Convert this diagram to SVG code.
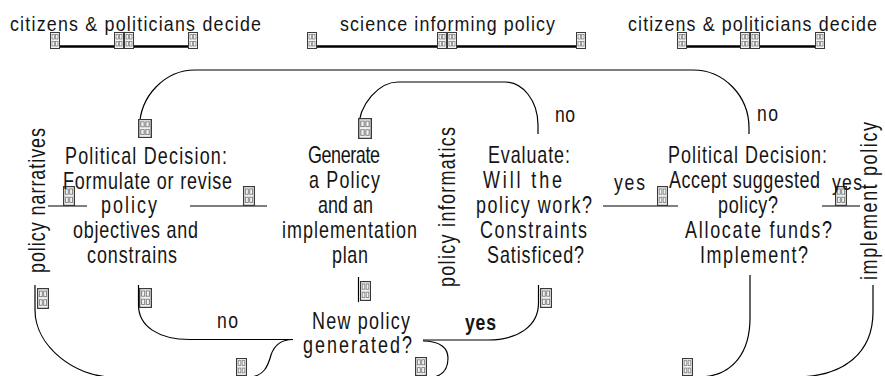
<svg xmlns="http://www.w3.org/2000/svg" width="885" height="376" viewBox="0 0 885 376">
<style>
text{font-family:"Liberation Sans",Arial,sans-serif;fill:#151515}
.t{font-size:21px}
.n{font-size:23px}
.v{font-size:23px}
.lb{font-size:22px}
.c{fill:none;stroke:#000;stroke-width:1.2}
.b{fill:none;stroke:#000;stroke-width:2.6}
</style>
<defs>
<symbol id="tofu" viewBox="0 0 10 17" preserveAspectRatio="none">
<rect x="0.5" y="0.5" width="9" height="16" fill="#f2f2f2" stroke="#3a3a3a" stroke-width="1"/>
<rect x="2" y="2.5" width="2.4" height="4.5" fill="none" stroke="#777" stroke-width="0.7"/>
<rect x="5.6" y="2.5" width="2.4" height="4.5" fill="none" stroke="#777" stroke-width="0.7"/>
<rect x="2" y="9.5" width="2.4" height="4.5" fill="none" stroke="#777" stroke-width="0.7"/>
<rect x="5.6" y="9.5" width="2.4" height="4.5" fill="none" stroke="#777" stroke-width="0.7"/>
</symbol>
</defs>
<rect width="885" height="376" fill="#fff"/>
<g id="connectors">
<path class="b" d="M60,46.5H114M134,46.5H188M317,46.5H437M457,46.5H576M687,46.5H740M760,46.5H815"/>
<path class="c" d="M139.5,138V128C139.5,96 165,70 195,70H693C724,70 749,96 749,128V134"/>
<path class="c" d="M358.5,130C358.5,103 380,82 398,82H505C523,82 538,101 538,125V134"/>
<path class="c" d="M48,206H87M190,206H267M603,206H678M822,206H860"/>
<path class="c" d="M358.5,277V302"/>
<path class="c" d="M138.5,285V305C138.5,326 158,339.5 190,339.5H293"/>
<path class="c" d="M293,339.5C280,339.5 274,346 271,355C268,366 264,376 250,377"/>
<path class="c" d="M35,285V310C35,347 76,377 112,377H250"/>
<path class="c" d="M538.5,285V303C538.5,326 518,340 488,340H423"/>
<path class="c" d="M423,341C440,341 448,348 448,358C448,368 443,375 434,377"/>
<path class="c" d="M750,275V318C750,350 735,376 700,377"/>
<path class="c" d="M873,285V312C873,352 845,377 795,377"/>
</g>
<g id="glyph-boxes">
<use href="#tofu" x="50" y="32" width="10" height="17"/>
<use href="#tofu" x="114" y="32" width="10" height="17"/>
<use href="#tofu" x="124" y="32" width="10" height="17"/>
<use href="#tofu" x="188" y="32" width="10" height="17"/>
<use href="#tofu" x="307" y="32" width="10" height="17"/>
<use href="#tofu" x="437" y="32" width="10" height="17"/>
<use href="#tofu" x="447" y="32" width="10" height="17"/>
<use href="#tofu" x="576" y="32" width="10" height="17"/>
<use href="#tofu" x="677" y="32" width="10" height="17"/>
<use href="#tofu" x="740" y="32" width="10" height="17"/>
<use href="#tofu" x="750" y="32" width="10" height="17"/>
<use href="#tofu" x="815" y="32" width="10" height="17"/>
<use href="#tofu" x="138" y="119" width="14" height="19"/>
<use href="#tofu" x="358" y="118" width="14" height="21"/>
<use href="#tofu" x="63" y="186" width="12" height="20"/>
<use href="#tofu" x="243" y="186" width="12" height="20"/>
<use href="#tofu" x="657" y="186" width="11" height="20"/>
<use href="#tofu" x="835" y="186" width="12" height="20"/>
<use href="#tofu" x="37" y="288" width="12" height="21"/>
<use href="#tofu" x="139" y="288" width="13" height="20"/>
<use href="#tofu" x="360" y="281" width="11" height="20"/>
<use href="#tofu" x="540" y="288" width="12" height="20"/>
<use href="#tofu" x="236" y="358" width="11" height="18"/>
<use href="#tofu" x="415" y="357" width="12" height="19"/>
<use href="#tofu" x="682" y="358" width="11" height="18"/>
</g>
<g id="label-top-left"><text class="t" transform="matrix(0.85 0 0 1 10 30.5)" textLength="295.3">citizens &amp; politicians decide</text></g>
<g id="label-top-mid"><text class="t" transform="matrix(0.85 0 0 1 340 30.5)" textLength="252.9">science informing policy</text></g>
<g id="label-top-right"><text class="t" transform="matrix(0.85 0 0 1 628 30.5)" textLength="292.9">citizens &amp; politicians decide</text></g>
<g id="node-formulate">
<text class="n" transform="matrix(0.78 0 0 1 65 164)" textLength="207.7">Political Decision:</text>
<text class="n" transform="matrix(0.78 0 0 1 63 188.5)" textLength="216.7">Formulate or revise</text>
<text class="n" transform="matrix(0.78 0 0 1 101 213)" textLength="71.8">policy</text>
<text class="n" transform="matrix(0.78 0 0 1 73 238)" textLength="160.3">objectives and</text>
<text class="n" transform="matrix(0.78 0 0 1 87 263)" textLength="115.4">constrains</text>
</g>
<g id="node-generate">
<text class="n" transform="matrix(0.78 0 0 1 308 163)" textLength="92.3">Generate</text>
<text class="n" transform="matrix(0.78 0 0 1 309 188)" textLength="91">a Policy</text>
<text class="n" transform="matrix(0.78 0 0 1 318 213)" textLength="70.5">and an</text>
<text class="n" transform="matrix(0.78 0 0 1 282 238)" textLength="173.1">implementation</text>
<text class="n" transform="matrix(0.78 0 0 1 332 263)" textLength="46.2">plan</text>
</g>
<g id="node-evaluate">
<text class="n" transform="matrix(0.78 0 0 1 488 163)" textLength="105.1">Evaluate:</text>
<text class="n" transform="matrix(0.78 0 0 1 483 188)" textLength="101.3">Will the</text>
<text class="n" transform="matrix(0.78 0 0 1 476 213)" textLength="148.7">policy work?</text>
<text class="n" transform="matrix(0.78 0 0 1 480 238)" textLength="137.2">Constraints</text>
<text class="n" transform="matrix(0.78 0 0 1 487 263)" textLength="124.4">Satisficed?</text>
</g>
<g id="node-accept">
<text class="n" transform="matrix(0.78 0 0 1 668 163)" textLength="203.8">Political Decision:</text>
<text class="n" transform="matrix(0.78 0 0 1 669 188)" textLength="193.6">Accept suggested</text>
<text class="n" transform="matrix(0.78 0 0 1 718 213)" textLength="76.9">policy?</text>
<text class="n" transform="matrix(0.78 0 0 1 685 238)" textLength="188.5">Allocate funds?</text>
<text class="n" transform="matrix(0.78 0 0 1 700 263)" textLength="138.5">Implement?</text>
</g>
<g id="node-newpolicy">
<text class="n" transform="matrix(0.78 0 0 1 312 329)" textLength="125.6">New policy</text>
<text class="n" transform="matrix(0.78 0 0 1 303 353)" textLength="139.7">generated?</text>
</g>
<g id="label-narratives"><text class="v" transform="translate(45,273) rotate(-90) scale(0.78,1)" textLength="185.9">policy narratives</text></g>
<g id="label-informatics"><text class="v" transform="translate(455,287) rotate(-90) scale(0.78,1)" textLength="205.1">policy informatics</text></g>
<g id="label-implement"><text class="v" transform="translate(877,280) rotate(-90) scale(0.78,1)" textLength="202.6">implement policy</text></g>
<g id="edge-labels">
<text class="lb" transform="matrix(0.8 0 0 1 555 122)" textLength="25">no</text>
<text class="lb" transform="matrix(0.8 0 0 1 757 121)" textLength="26.25">no</text>
<text class="lb" transform="matrix(0.8 0 0 1 614 190)" textLength="38.75">yes</text>
<text class="lb" transform="matrix(0.8 0 0 1 832 190)" textLength="37.5">yes</text>
<text class="lb" transform="matrix(0.8 0 0 1 217 328)" textLength="26.25">no</text>
<text class="lb" transform="matrix(0.8 0 0 1 465 330)" textLength="38.75" font-weight="bold">yes</text>
</g>
</svg>
